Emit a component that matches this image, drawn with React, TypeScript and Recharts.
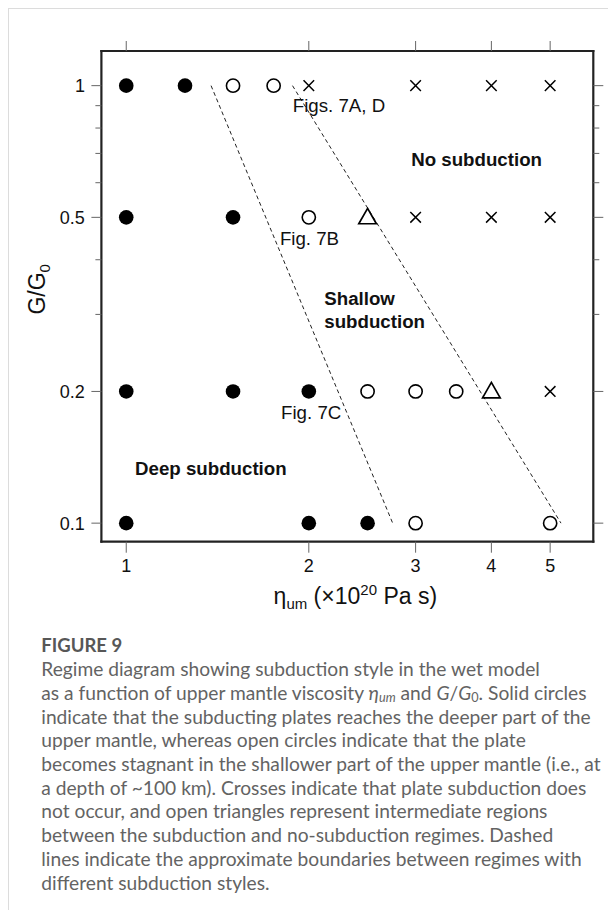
import React from 'react';
import { ScatterChart, Scatter, XAxis, YAxis, ReferenceLine } from 'recharts';

// axis ticks
const xTicks = [1, 2, 3, 4, 5];
const yTicks = [0.1, 0.2, 0.3, 0.4, 0.5, 0.6, 0.7, 0.8, 0.9, 1];
const yMajor = [0.1, 0.2, 0.5, 1];

// runs, grouped by regime (x = eta_um in 1e20 Pa s, y = G/G0)
const deepRuns = [
  { x: 1, y: 1 }, { x: 1.25, y: 1 },
  { x: 1, y: 0.5 }, { x: 1.5, y: 0.5 },
  { x: 1, y: 0.2 }, { x: 1.5, y: 0.2 }, { x: 2, y: 0.2 },
  { x: 1, y: 0.1 }, { x: 2, y: 0.1 }, { x: 2.5, y: 0.1 },
];
const shallowRuns = [
  { x: 1.5, y: 1 }, { x: 1.75, y: 1 },
  { x: 2, y: 0.5 },
  { x: 2.5, y: 0.2 }, { x: 3, y: 0.2 }, { x: 3.5, y: 0.2 },
  { x: 3, y: 0.1 }, { x: 5, y: 0.1 },
];
const noSubRuns = [
  { x: 2, y: 1 }, { x: 3, y: 1 }, { x: 4, y: 1 }, { x: 5, y: 1 },
  { x: 3, y: 0.5 }, { x: 4, y: 0.5 }, { x: 5, y: 0.5 },
  { x: 5, y: 0.2 },
];
const transitionRuns = [{ x: 2.5, y: 0.5 }, { x: 4, y: 0.2 }];

// approximate regime boundaries
const boundaryDeep = [{ x: 1.38, y: 1 }, { x: 2.75, y: 0.1 }];
const boundaryNoSub = [{ x: 1.88, y: 1 }, { x: 5.21, y: 0.1 }];

// text annotations (left edge / baseline in data coords)
const notes = [
  { x: 1.882, y: 0.871, text: 'Figs. 7A, D', bold: false },
  { x: 2.95, y: 0.656, text: 'No subduction', bold: true },
  { x: 1.792, y: 0.4315, text: 'Fig. 7B', bold: false },
  { x: 2.121, y: 0.3158, text: 'Shallow', bold: true },
  { x: 2.121, y: 0.2794, text: 'subduction', bold: true },
  { x: 1.8, y: 0.1727, text: 'Fig. 7C', bold: false },
  { x: 1.034, y: 0.1286, text: 'Deep subduction', bold: true },
];

const captionLines = [
  'Regime diagram showing subduction style in the wet model',
  null, // line with italic math, built below
  'indicate that the subducting plates reaches the deeper part of the',
  'upper mantle, whereas open circles indicate that the plate',
  'becomes stagnant in the shallower part of the upper mantle (i.e., at',
  'a depth of ~100 km). Crosses indicate that plate subduction does',
  'not occur, and open triangles represent intermediate regions',
  'between the subduction and no-subduction regimes. Dashed',
  'lines indicate the approximate boundaries between regimes with',
  'different subduction styles.',
];

const FONT = '"Liberation Sans", Arial, Helvetica, sans-serif';
const X_DOMAIN: [number, number] = [0.91, 5.89];
const Y_DOMAIN: [number, number] = [0.0907, 1.2];
const FRAME = { stroke: '#222', strokeWidth: 2.2, strokeLinecap: 'square' as const };
const TICK_COLOR = '#666';

const LeftTick = ({ x, y, payload }: any) => {
  const major = yMajor.includes(payload.value);
  return (
    <g>
      <line x1={x - (major ? 10 : 6)} x2={x} y1={y} y2={y} stroke={TICK_COLOR} strokeWidth={1} />
      {major && (
        <text x={x - 16.5} y={y} dy="0.36em" textAnchor="end" fontSize={18} fontFamily={FONT} fill="#111">
          {payload.value}
        </text>
      )}
    </g>
  );
};

const RightTick = ({ x, y, payload }: any) => {
  const major = yMajor.includes(payload.value);
  return <line x1={x} x2={x + (major ? 10 : 6)} y1={y} y2={y} stroke={TICK_COLOR} strokeWidth={1} />;
};

const BottomTick = ({ x, y, payload }: any) => (
  <g>
    <line x1={x} x2={x} y1={y} y2={y + 11} stroke={TICK_COLOR} strokeWidth={1} />
    <text x={x} y={y + 30} textAnchor="middle" fontSize={18} fontFamily={FONT} fill="#111">
      {payload.value}
    </text>
  </g>
);

const TopTick = ({ x, y }: any) => (
  <line x1={x} x2={x} y1={y - 10} y2={y} stroke={TICK_COLOR} strokeWidth={1} />
);

const xLabel = ({ viewBox }: any) => {
  const cx = viewBox.x + viewBox.width / 2 + 8;
  const by = viewBox.y + 62;
  return (
    <text x={cx} y={by} textAnchor="middle" fontSize={23} fontFamily={FONT} fill="#111">
      η<tspan fontSize={15} dy={5}>um</tspan>
      <tspan dy={-5}> (×10</tspan>
      <tspan fontSize={15} dy={-9}>20</tspan>
      <tspan dy={9}> Pa s)</tspan>
    </text>
  );
};

const yLabel = ({ viewBox }: any) => {
  const bx = viewBox.x + 13.6;
  const cy = viewBox.y + viewBox.height / 2 - 7;
  return (
    <text x={bx} y={cy} transform={`rotate(-90, ${bx}, ${cy})`} textAnchor="middle" fontSize={23} fontFamily={FONT} fill="#111">
      G/G<tspan fontSize={15} dy={5}>0</tspan>
    </text>
  );
};

const filledDot = (p: any) => <circle cx={p.cx} cy={p.cy} r={7.3} fill="#000" />;
const openDot = (p: any) => <circle cx={p.cx} cy={p.cy} r={6.6} fill="#fff" stroke="#000" strokeWidth={1.6} />;
const cross = (p: any) => (
  <path
    d={`M${p.cx - 5.3},${p.cy - 5.3}L${p.cx + 5.3},${p.cy + 5.3}M${p.cx - 5.3},${p.cy + 5.3}L${p.cx + 5.3},${p.cy - 5.3}`}
    stroke="#000"
    strokeWidth={1.5}
  />
);
const triangle = (p: any) => (
  <path
    d={`M${p.cx},${p.cy - 9}L${p.cx + 8.8},${p.cy + 6.4}L${p.cx - 8.8},${p.cy + 6.4}Z`}
    fill="none"
    stroke="#000"
    strokeWidth={1.7}
    strokeLinejoin="miter"
  />
);
const noteText = (p: any) => (
  <text
    x={p.cx}
    y={p.cy}
    fontSize={18.7}
    fontWeight={p.payload.bold ? 'bold' : 'normal'}
    fontFamily={FONT}
    fill="#111"
  >
    {p.payload.text}
  </text>
);

const sub = { fontSize: '0.66em', position: 'relative', top: '0.18em', lineHeight: 0 } as const;

const App: React.FC = () => {
  return (
    <div
      style={{
        position: 'relative',
        width: 608,
        height: 902,
        boxSizing: 'border-box',
        borderTop: '1px solid #dcdcdc',
        borderLeft: '1px solid #dcdcdc',
        background: '#fff',
      }}
    >
      <div style={{ position: 'absolute', left: 0, top: 0 }}>
        <ScatterChart width={600} height={620} margin={{ top: 22, right: 1.7, bottom: 17.3, left: 22.4 }}>
          <XAxis
            xAxisId={0}
            type="number"
            dataKey="x"
            scale="log"
            domain={X_DOMAIN}
            allowDataOverflow
            ticks={xTicks}
            interval={0}
            height={70}
            tickSize={0}
            tickMargin={0}
            axisLine={FRAME}
            tick={<BottomTick />}
            label={xLabel}
          />
          <XAxis
            xAxisId="top"
            orientation="top"
            type="number"
            dataKey="x"
            scale="log"
            domain={X_DOMAIN}
            allowDataOverflow
            ticks={xTicks}
            interval={0}
            height={20}
            tickSize={0}
            tickMargin={0}
            axisLine={FRAME}
            tick={<TopTick />}
          />
          <YAxis
            yAxisId={0}
            type="number"
            dataKey="y"
            scale="log"
            domain={Y_DOMAIN}
            allowDataOverflow
            ticks={yTicks}
            interval={0}
            width={70}
            tickSize={0}
            tickMargin={0}
            axisLine={FRAME}
            tick={<LeftTick />}
            label={yLabel}
          />
          <YAxis
            yAxisId="right"
            orientation="right"
            type="number"
            dataKey="y"
            scale="log"
            domain={Y_DOMAIN}
            allowDataOverflow
            ticks={yTicks}
            interval={0}
            width={14}
            tickSize={0}
            tickMargin={0}
            axisLine={FRAME}
            tick={<RightTick />}
          />
          <ReferenceLine segment={boundaryDeep} stroke="#222" strokeWidth={1} strokeDasharray="4 3" />
          <ReferenceLine segment={boundaryNoSub} stroke="#222" strokeWidth={1} strokeDasharray="4 3" />
          <Scatter data={deepRuns} shape={filledDot} isAnimationActive={false} />
          <Scatter data={shallowRuns} shape={openDot} isAnimationActive={false} />
          <Scatter data={noSubRuns} shape={cross} isAnimationActive={false} />
          <Scatter data={transitionRuns} shape={triangle} isAnimationActive={false} />
          <Scatter data={notes} shape={noteText} isAnimationActive={false} />
        </ScatterChart>
      </div>
      <div
        style={{
          position: 'absolute',
          left: 32.3,
          top: 624.5,
          fontFamily: 'Lato, "Open Sans", sans-serif',
          fontSize: 19.2,
          lineHeight: '23.7px',
          color: '#636363',
          whiteSpace: 'nowrap',
        }}
      >
        <div style={{ fontWeight: 'bold', fontSize: 18.5, color: '#575757' }}>FIGURE 9</div>
        {captionLines.map((line, i) =>
          line === null ? (
            <div key={i}>
              as a function of upper mantle viscosity <i>η<span style={sub}>um</span></i> and{' '}
              <i>G</i>/<i>G</i>
              <span style={sub}>0</span>. Solid circles
            </div>
          ) : (
            <div key={i}>{line}</div>
          )
        )}
      </div>
    </div>
  );
};

export default App;
